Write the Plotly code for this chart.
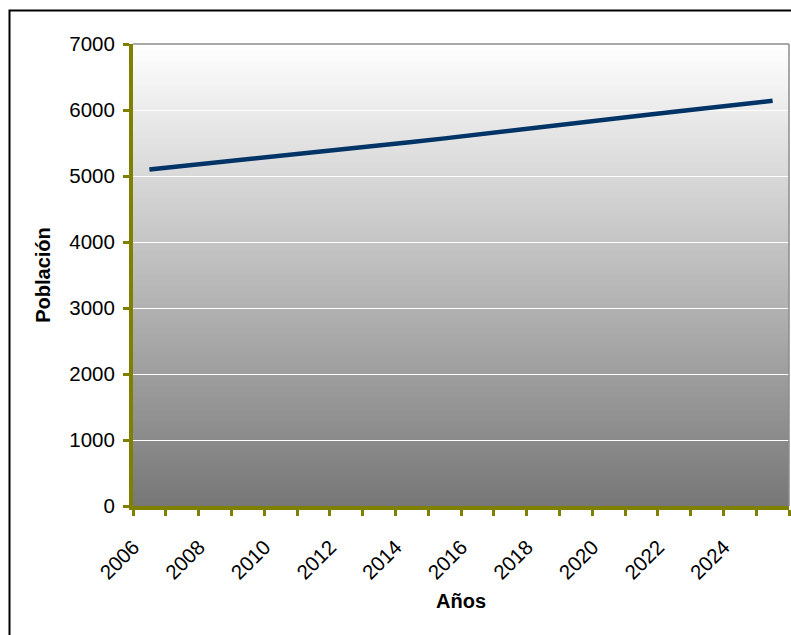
import plotly.graph_objects as go

years = list(range(2006, 2026))
poblacion = [5100, 5150, 5200, 5250, 5300, 5350, 5400, 5465, 5515, 5570,
             5625, 5685, 5745, 5800, 5850, 5915, 5975, 6035, 6095, 6140]
label_years = [y for y in years if y % 2 == 0]
label_text = [str(y) for y in label_years]
y_ticks = [0, 1000, 2000, 3000, 4000, 5000, 6000, 7000]

W, H = 791, 635
L, R, T, B = 133, 2, 44, 129
OLIVE = "#808000"
FONT = "Liberation Sans, Arial, sans-serif"

fig = go.Figure()
fig.add_trace(go.Scatter(
    x=years, y=poblacion, mode="lines",
    line=dict(color="#003366", width=4.5),
    showlegend=False, hoverinfo="skip"))

# gradient background (white -> gray) drawn as thin bands in paper coords
shapes = []
N = 231
for i in range(N):
    f = (i + 0.5) / N  # 0 at bottom, 1 at top
    v = int(round(119 + (255 - 119) * f))
    shapes.append(dict(type="rect", xref="paper", yref="paper",
                       x0=0, x1=1, y0=i / N, y1=(i + 1) / N + 0.002,
                       fillcolor=f"rgb({v},{v},{v})", line=dict(width=0),
                       layer="below"))
# gray top & right border of plot area
shapes.append(dict(type="line", xref="paper", yref="paper", x0=0, x1=1, y0=1, y1=1,
                   line=dict(color="#8c8c8c", width=1.5)))
shapes.append(dict(type="line", xref="paper", yref="paper", x0=1, x1=1, y0=0, y1=1,
                   line=dict(color="#8c8c8c", width=1.5)))
# outer chart frame (top and left visible)
pw, ph = W - L - R, H - T - B
def px(x): return (x - L) / pw
def py(y): return (H - B - y) / ph
shapes.append(dict(type="path", xref="paper", yref="paper",
                   path=f"M {px(9.5)} {py(660)} L {px(9.5)} {py(10.5)} L {px(800)} {py(10.5)}",
                   line=dict(color="#000000", width=2)))

fig.update_layout(
    width=W, height=H,
    margin=dict(l=L, r=R, t=T, b=B, pad=0),
    paper_bgcolor="white", plot_bgcolor="rgb(187,187,187)",
    font=dict(family=FONT, size=20, color="black"),
    shapes=shapes,
    xaxis=dict(
        range=[2005.5, 2025.5], tickmode="array",
        tickvals=label_years, ticktext=label_text,
        tickangle=-45, ticks="outside", ticklen=0, tickcolor=OLIVE,
        showline=True, linecolor=OLIVE, linewidth=4,
        showgrid=False, zeroline=False,
        minor=dict(ticks="outside", ticklen=6, tickwidth=3, tickcolor=OLIVE,
                   tick0=2005.5, dtick=1, showgrid=False),
        tickfont=dict(size=20.5),
        ticklabelstandoff=17, ticklabelshift=-16,
        title=dict(text="<b>Años</b>", font=dict(size=20), standoff=12),
    ),
    yaxis=dict(
        range=[0, 7000], tickmode="array", tickvals=y_ticks,
        ticks="outside", ticklen=6, tickwidth=3, tickcolor=OLIVE,
        showline=True, linecolor=OLIVE, linewidth=4,
        showgrid=True, gridcolor="white", gridwidth=1, zeroline=False,
        tickfont=dict(size=20.5), ticklabelstandoff=4,
        title=dict(text="<b>Población</b>", font=dict(size=20), standoff=14),
    ),
)

fig.write_html("out.html", config={"displayModeBar": False},
               post_script="document.body.style.margin='0';document.body.style.overflow='hidden';")
